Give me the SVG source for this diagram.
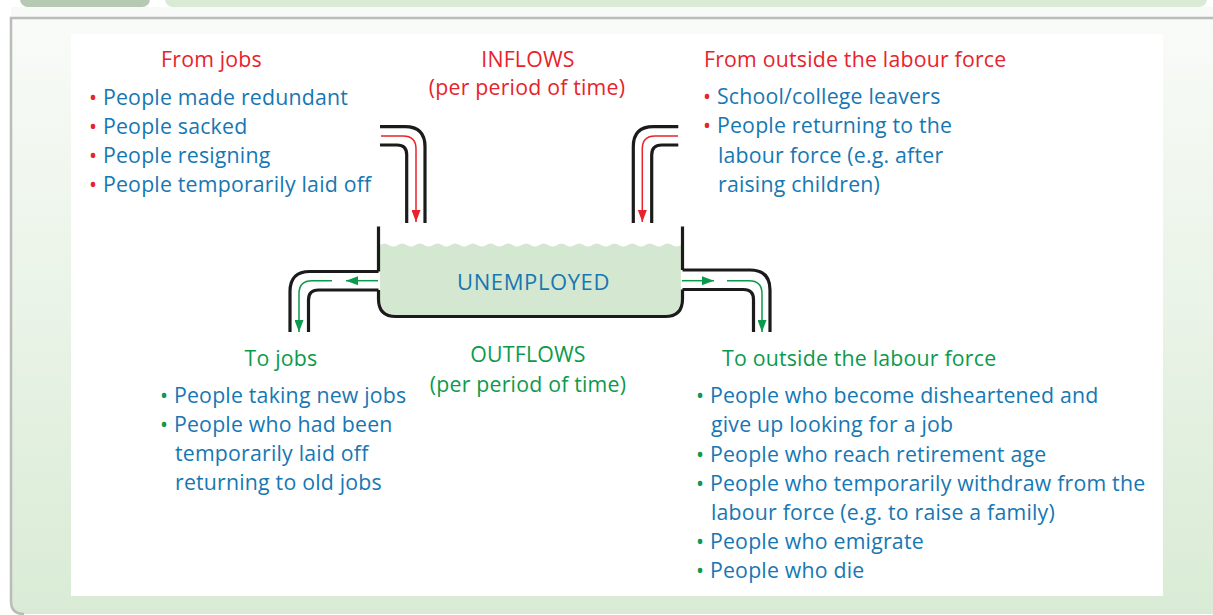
<svg xmlns="http://www.w3.org/2000/svg" width="1213" height="615" viewBox="0 0 1213 615">
<defs>
<linearGradient id="bg" x1="0" y1="0" x2="0" y2="1">
<stop offset="0" stop-color="#f9fbf8"/>
<stop offset="1" stop-color="#d9ebd5"/>
</linearGradient>
<marker id="ar" viewBox="0 0 12 9" refX="12" refY="4.5" markerWidth="12" markerHeight="9" markerUnits="userSpaceOnUse" orient="auto">
<path d="M0,0 L12,4.5 L0,9 z" fill="#e8232b"/>
</marker>
<marker id="ag" viewBox="0 0 12 9" refX="12" refY="4.5" markerWidth="12" markerHeight="9" markerUnits="userSpaceOnUse" orient="auto">
<path d="M0,0 L12,4.5 L0,9 z" fill="#0b9a4c"/>
</marker>
</defs>
<style>
text{font-family:"Open Sans","Liberation Sans",Arial,sans-serif;font-size:21.3px;letter-spacing:0.2px}
.red{fill:#e8232b}
.grn{fill:#0b9a4c}
.blu{fill:#1677b3}
.mid{text-anchor:middle}
.wall{fill:none;stroke:#1b1b1b;stroke-width:3.2}
.rf{fill:none;stroke:#e8232b;stroke-width:1.5}
.gf{fill:none;stroke:#0b9a4c;stroke-width:1.5}
</style>
<rect x="0" y="0" width="1213" height="615" fill="#ffffff"/>
<rect x="20" y="-10" width="130" height="17" rx="8" fill="#b6c9b3"/>
<rect x="165" y="-10" width="1042" height="17" rx="8" fill="#d9ebd5"/>
<rect x="11" y="7" width="1202" height="11" fill="#f8faf7"/>
<path d="M11,18 H1213 V614 H24 Q11,614 11,601 Z" fill="url(#bg)"/>
<path d="M1213,18 H11 V601 Q11,614 24,614" fill="none" stroke="#b9bcb9" stroke-width="2.5"/>
<rect x="71" y="34" width="1092" height="562" fill="#ffffff"/>

<g id="tank">
<path d="M380,245 q4.43,-3 8.85,0 t8.85,0 t8.85,0 t8.85,0 t8.85,0 t8.85,0 t8.85,0 t8.85,0 t8.85,0 t8.85,0 t8.85,0 t8.85,0 t8.85,0 t8.85,0 t8.85,0 t8.85,0 t8.85,0 t8.85,0 t8.85,0 t8.85,0 t8.85,0 t8.85,0 t8.85,0 t8.85,0 t8.85,0 t8.85,0 t8.85,0 t8.85,0 t8.85,0 t8.85,0 t8.85,0 t8.85,0 t8.85,0 t8.85,0 V298 Q681,315 664,315 H397 Q380,315 380,298 Z" fill="#d4e7d0"/>
<path class="wall" d="M378.5,226.5 V271.5 M378.5,290 V299 Q378.5,316.5 396,316.5 H665 Q682.5,316.5 682.5,299 V289.5 M682.5,270 V226.5"/>
<text class="blu mid" x="533.5" y="290" style="font-size:22px;letter-spacing:0.6px">UNEMPLOYED</text>
</g>

<g id="pipe-in-left">
<path class="wall" d="M380,126.7 H405 Q425,126.7 425,146.7 V223 M380,145 H397 Q406.7,145 406.7,154.7 V223"/>
</g>
<g id="pipe-in-right">
<path class="wall" d="M678.3,126.7 H653.3 Q633.3,126.7 633.3,146.7 V223 M678.3,145 H661.7 Q651.7,145 651.7,155 V223"/>
</g>
<g id="pipe-out-left">
<path class="wall" d="M378.5,271.5 H310 Q290,271.5 290,291.5 V332 M378.5,290 H318.5 Q308.5,290 308.5,300 V332"/>
</g>
<g id="pipe-out-right">
<path class="wall" d="M682.5,270 H750 Q770,270 770,290 V332 M682.5,289.5 H743.5 Q753.5,289.5 753.5,299.5 V332"/>
</g>

<g id="connectors">
<path class="rf" d="M381,136 H403 Q416,136 416,149 V222" marker-end="url(#ar)"/>
<path class="rf" d="M678,136 H655 Q642.3,136 642.3,149 V222" marker-end="url(#ar)"/>
<path class="gf" d="M378,280.7 H346" marker-end="url(#ag)"/>
<path class="gf" d="M332,280.7 H312 Q299,280.7 299,293.7 V332" marker-end="url(#ag)"/>
<path class="gf" d="M682,280.7 H714" marker-end="url(#ag)"/>
<path class="gf" d="M727,280.7 H749 Q762,280.7 762,293.7 V332" marker-end="url(#ag)"/>
</g>

<g id="inflows-label">
<text class="red mid" x="528" y="67">INFLOWS</text>
<text class="red mid" x="527" y="95">(per period of time)</text>
</g>

<g id="from-jobs">
<text class="red mid" x="211.5" y="67">From jobs</text>
<text class="blu" x="89" y="105"><tspan class="red">•</tspan> People made redundant</text>
<text class="blu" x="89" y="134"><tspan class="red">•</tspan> People sacked</text>
<text class="blu" x="89" y="163"><tspan class="red">•</tspan> People resigning</text>
<text class="blu" x="89" y="192"><tspan class="red">•</tspan> People temporarily laid off</text>
</g>

<g id="from-outside">
<text class="red" x="704" y="67">From outside the labour force</text>
<text class="blu" x="703" y="104"><tspan class="red">•</tspan> School/college leavers</text>
<text class="blu" x="703" y="133"><tspan class="red">•</tspan> People returning to the</text>
<text class="blu" x="718" y="162.5">labour force (e.g. after</text>
<text class="blu" x="718" y="191.5">raising children)</text>
</g>

<g id="outflows-label">
<text class="grn mid" x="528" y="362">OUTFLOWS</text>
<text class="grn mid" x="528" y="391.5">(per period of time)</text>
</g>

<g id="to-jobs">
<text class="grn mid" x="281" y="365.5">To jobs</text>
<text class="blu" x="160" y="403"><tspan class="grn">•</tspan> People taking new jobs</text>
<text class="blu" x="160" y="432"><tspan class="grn">•</tspan> People who had been</text>
<text class="blu" x="175" y="461">temporarily laid off</text>
<text class="blu" x="175" y="490">returning to old jobs</text>
</g>

<g id="to-outside">
<text class="grn" x="722" y="365.5">To outside the labour force</text>
<text class="blu" x="696" y="403.3"><tspan class="grn">•</tspan> People who become disheartened and</text>
<text class="blu" x="711" y="432">give up looking for a job</text>
<text class="blu" x="696" y="461.5"><tspan class="grn">•</tspan> People who reach retirement age</text>
<text class="blu" x="696" y="490.7"><tspan class="grn">•</tspan> People who temporarily withdraw from the</text>
<text class="blu" x="711" y="520">labour force (e.g. to raise a family)</text>
<text class="blu" x="696" y="549.3"><tspan class="grn">•</tspan> People who emigrate</text>
<text class="blu" x="696" y="578.3"><tspan class="grn">•</tspan> People who die</text>
</g>
</svg>
